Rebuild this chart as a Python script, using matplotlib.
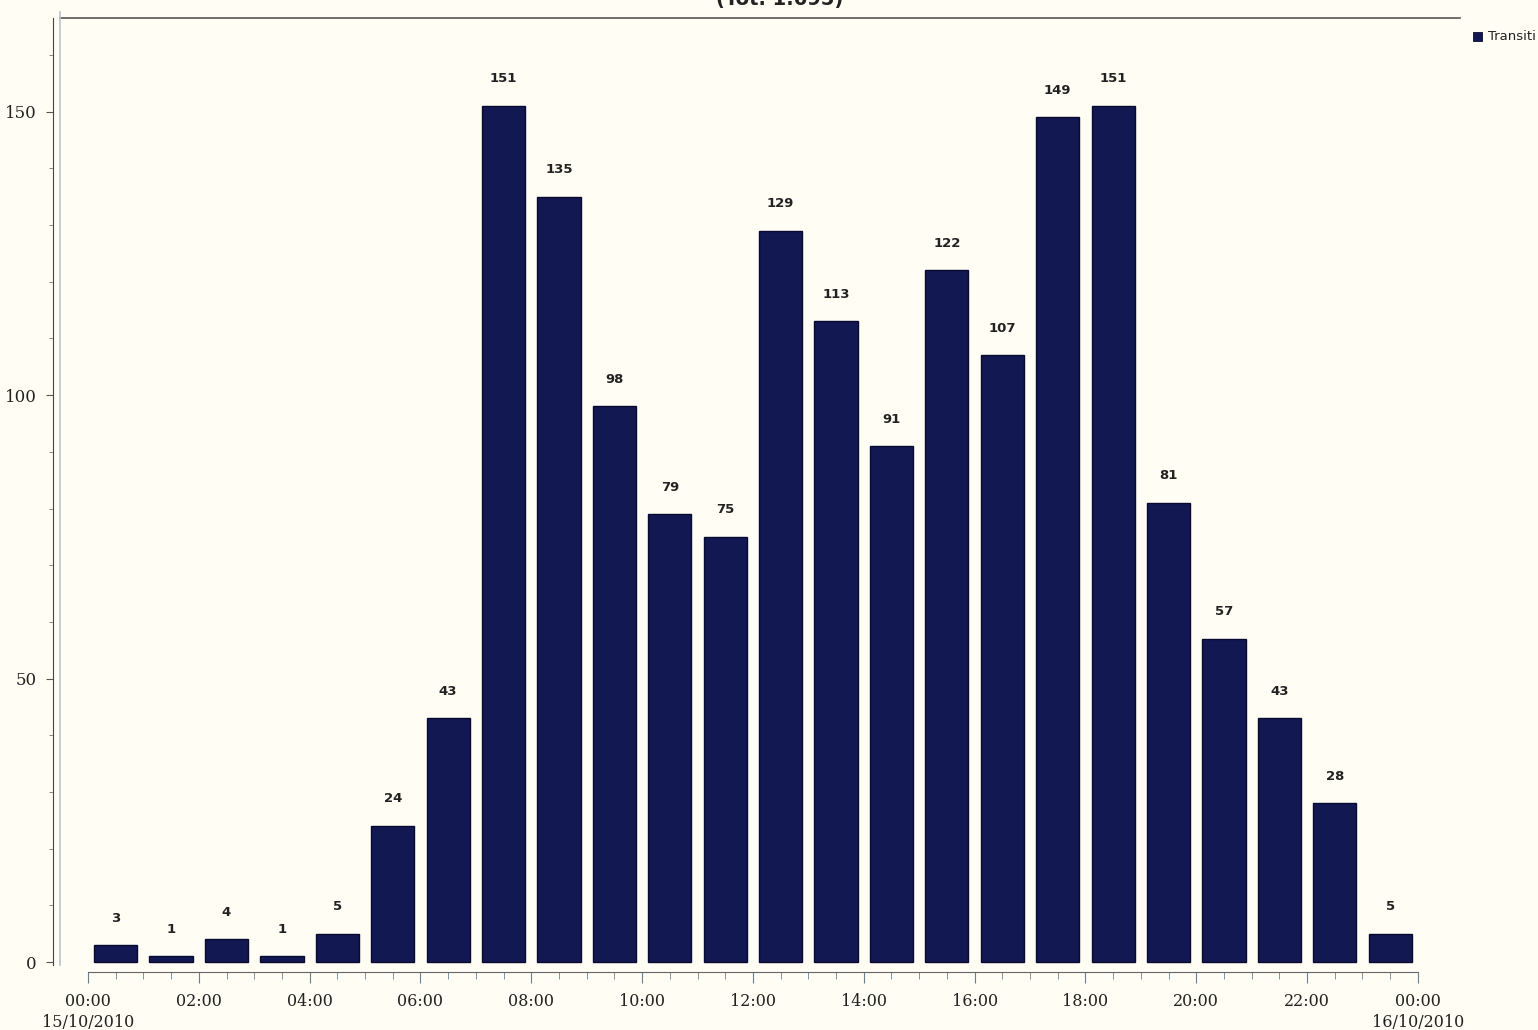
import matplotlib.pyplot as plt
from matplotlib.lines import Line2D
from matplotlib.patches import Rectangle
from matplotlib.ticker import FixedLocator, MultipleLocator

# hourly transits, 15/10/2010
hours = list(range(24))
transiti = [3, 1, 4, 1, 5, 24, 43, 151, 135, 98, 79, 75,
            129, 113, 91, 122, 107, 149, 151, 81, 57, 43, 28, 5]
tick_hours = list(range(0, 25, 2))
tick_labels = [f"{h % 24:02d}:00" for h in tick_hours]
tick_labels[0] += "\n15/10/2010"
tick_labels[-1] += "\n16/10/2010"
title = "(Tot. 1.695)"
legend_label = "Transiti"

bg = "#fffdf4"
navy = "#121852"

W, H = 1538, 1030
fig = plt.figure(figsize=(W / 100, H / 100), dpi=100, facecolor=bg)
ax = fig.add_axes([60 / W, 1 - 965 / H, 1400 / W, (965 - 18) / H])
ax.set_facecolor(bg)

ax.bar([h + 0.5 for h in hours], transiti, width=0.78, color=navy,
       edgecolor="#080a30", linewidth=1.0)
for h, v in zip(hours, transiti):
    ax.annotate(str(v), (h + 0.5, v), xytext=(0, 19.5), textcoords="offset points",
                ha="center", va="center", fontsize=9.5, fontweight="bold",
                color="#222222")

ax.set_xlim(-0.505, 24.76)
ax.set_ylim(-0.5, 166.5)

# axes look
ax.spines["right"].set_visible(False)
ax.spines["top"].set_color("#555555")
ax.spines["top"].set_linewidth(1.2)
ax.spines["left"].set_position(("outward", 5))
ax.spines["left"].set_color("#444444")
ax.spines["bottom"].set_position(("outward", 5))
ax.spines["bottom"].set_bounds(0, 24)
ax.spines["bottom"].set_color("#666666")

ax.set_yticks([0, 50, 100, 150])
ax.yaxis.set_minor_locator(MultipleLocator(10))
ax.set_xticks(tick_hours, labels=tick_labels)
ax.xaxis.set_minor_locator(FixedLocator([i * 0.5 for i in range(49)]))
ax.tick_params(axis="y", which="major", length=5, pad=7, color="#555555",
               labelsize=12, labelcolor="#222222")
ax.tick_params(axis="y", which="minor", length=3, color="#777777")
ax.tick_params(axis="x", which="major", length=8, pad=7, color="#6a8090",
               labelsize=11.5, labelcolor="#222222")
ax.tick_params(axis="x", which="minor", length=5, color="#6a8090")
for lab in ax.get_xticklabels() + ax.get_yticklabels():
    lab.set_family("DejaVu Serif")
    lab.set_linespacing(1.3)

# light inner frame line on the left
fig.add_artist(Line2D([60 / W, 60 / W], [1 - 965 / H, 1 - 12 / H],
                      color="#b8c4cc", linewidth=1.2))

fig.text(780 / W, 1 - 5 / H, title, ha="center", va="baseline",
         fontsize=14, fontweight="bold", color="#222222")

# legend
fig.add_artist(Rectangle((1473 / W, 1 - 41 / H), 9 / W, 9 / H,
                         facecolor=navy, edgecolor="#080a30", linewidth=0.6))
fig.text(1488 / W, 1 - 36 / H, legend_label, ha="left", va="center",
         fontsize=9.5, color="#222222")

fig.savefig("out.png", dpi=100, facecolor=bg)
